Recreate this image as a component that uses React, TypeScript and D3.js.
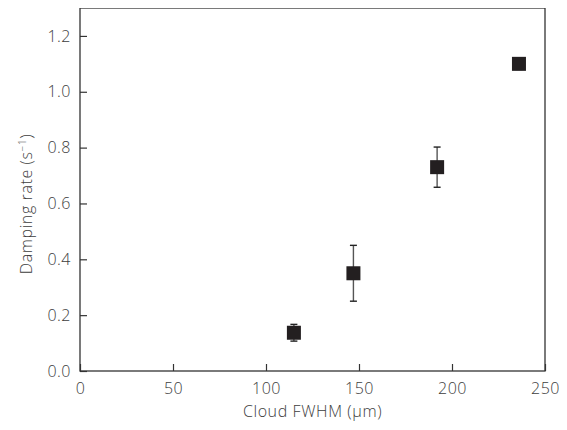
import React, { useEffect, useRef } from 'react'
import * as d3 from 'd3'

// cloud width (um), damping rate (1/s), error (1/s)
const fwhm = [115, 147, 192, 236]
const rate = [0.137, 0.35, 0.73, 1.10]
const rateErr = [0.03, 0.1, 0.072, 0.02]

const xTicks = [0, 50, 100, 150, 200, 250]
const yTicks = [0, 0.2, 0.4, 0.6, 0.8, 1.0, 1.2]

const W = 567
const H = 430
const margin = { top: 8, right: 22, bottom: 59, left: 80 }
const font = '"Open Sans", sans-serif'
const textColor = '#3d3d3d'

const App = () => {
  const ref = useRef<SVGSVGElement>(null)

  useEffect(() => {
    const svg = d3.select(ref.current)
    svg.selectAll('*').remove()

    const x = d3.scaleLinear().domain([0, 250]).range([margin.left, W - margin.right])
    const y = d3.scaleLinear().domain([0, 1.3]).range([H - margin.bottom, margin.top])

    // frame
    svg.append('rect')
      .attr('x', x(0)).attr('y', y(1.3))
      .attr('width', x(250) - x(0)).attr('height', y(0) - y(1.3))
      .attr('fill', 'none').attr('stroke', '#333').attr('stroke-width', 1.3)

    // ticks point inward
    const xAxis = svg.append('g')
      .attr('transform', `translate(0,${y(0)})`)
      .call(d3.axisBottom(x).tickValues(xTicks).tickSizeInner(-7).tickSizeOuter(0).tickPadding(12).tickFormat(d3.format('d')))
    const yAxis = svg.append('g')
      .attr('transform', `translate(${x(0)},0)`)
      .call(d3.axisLeft(y).tickValues(yTicks).tickSizeInner(-7).tickSizeOuter(0).tickPadding(9).tickFormat(d3.format('.1f')))

    for (const ax of [xAxis, yAxis]) {
      ax.select('.domain').remove()
      ax.selectAll('line').attr('stroke', '#333').attr('stroke-width', 1.2)
      ax.selectAll('text')
        .attr('font-family', font).attr('font-size', 16)
        .attr('font-weight', 300).attr('letter-spacing', 0.5).attr('fill', textColor)
    }

    const pts = fwhm.map((f, i) => ({ f, r: rate[i], e: rateErr[i] }))
    const g = svg.append('g')

    // error bars
    g.selectAll('.err').data(pts).enter().append('line')
      .attr('x1', (d) => x(d.f)).attr('x2', (d) => x(d.f))
      .attr('y1', (d) => y(d.r + d.e)).attr('y2', (d) => y(d.r - d.e))
      .attr('stroke', '#555').attr('stroke-width', 1.4)
    for (const s of [1, -1]) {
      g.selectAll(`.cap${s}`).data(pts).enter().append('line')
        .attr('x1', (d) => x(d.f) - 3.5).attr('x2', (d) => x(d.f) + 3.5)
        .attr('y1', (d) => y(d.r + s * d.e)).attr('y2', (d) => y(d.r + s * d.e))
        .attr('stroke', '#222').attr('stroke-width', 1.4)
    }

    // square markers
    g.selectAll('.pt').data(pts).enter().append('rect')
      .attr('x', (d) => x(d.f) - 7).attr('y', (d) => y(d.r) - 7)
      .attr('width', 14).attr('height', 14)
      .attr('fill', '#231f20')

    svg.append('text')
      .attr('x', (x(0) + x(250)) / 2).attr('y', 417)
      .attr('text-anchor', 'middle')
      .attr('font-family', font).attr('font-size', 16).attr('font-weight', 300)
      .attr('letter-spacing', 0.6).attr('fill', textColor)
      .text('Cloud FWHM (μm)')

    const yl = svg.append('text')
      .attr('transform', `translate(32,204) rotate(-90)`)
      .attr('text-anchor', 'middle')
      .attr('font-family', font).attr('font-size', 16).attr('font-weight', 300)
      .attr('letter-spacing', 0.6).attr('fill', textColor)
    yl.append('tspan').text('Damping rate (s')
    yl.append('tspan').attr('font-size', 10).attr('dy', -6).text('−1')
    yl.append('tspan').attr('dy', 6).text(')')
  }, [])

  return <svg ref={ref} width={W} height={H} style={{ display: 'block', margin: '-8px' }} />
}

export default App
